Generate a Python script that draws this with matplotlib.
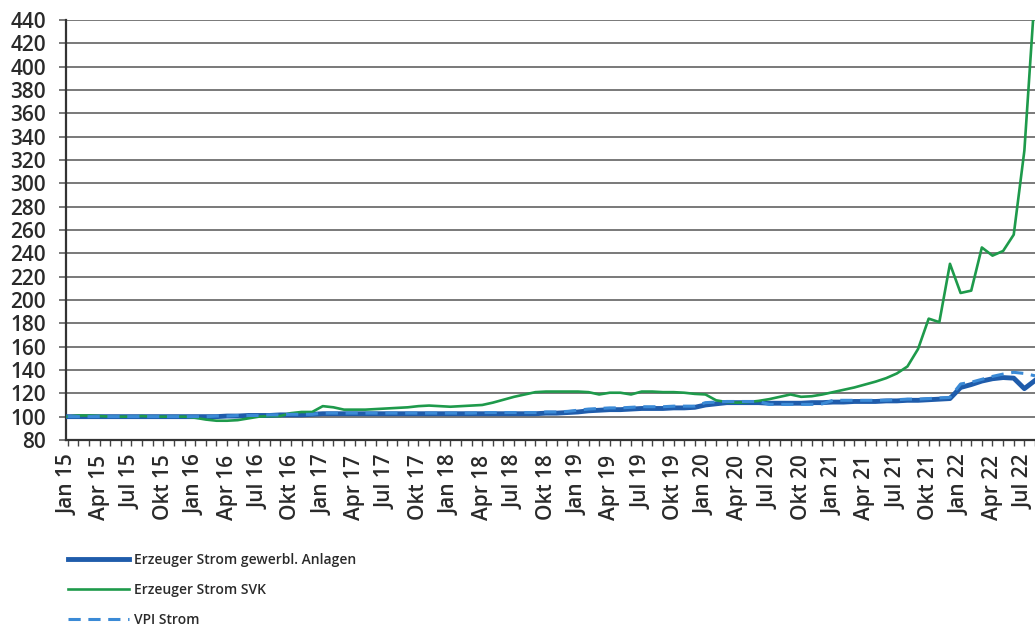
import matplotlib
matplotlib.use("Agg")
import matplotlib.pyplot as plt
import numpy as np

# Monatswerte Jan 15 .. Aug 22 (2015 = 100)
gewerbl = [
    100, 100, 100, 100, 100, 100, 100, 100, 100, 100, 100, 100,
    100, 100, 100, 100.5, 100.5, 101, 101, 101, 101.5, 101.5, 101.5, 102,
    102.5, 102.5, 102.5, 102.5, 102.5, 102.5, 102.5, 102.5, 102.5, 102.5, 102.5, 102.5,
    102.5, 102.5, 102.5, 102.5, 102.5, 102.5, 102.5, 102.5, 102.5, 103, 103, 103.5,
    104, 105, 105.5, 106, 106, 106.5, 107, 107, 107, 107.5, 107.5, 108,
    110, 111, 112, 112, 112, 112, 111.5, 111.5, 111.5, 111.5, 112, 112,
    112.5, 112.5, 113, 113, 113, 113.5, 113.5, 114, 114, 114.5, 115, 115.5,
    125, 127.5, 130.5, 132.5, 133.5, 133, 124, 131,
]
svk = [
    100, 101, 101, 100.5, 100, 100, 100, 100.5, 100, 100, 100, 100,
    99, 97.5, 96.5, 96.5, 97, 98.5, 100, 100.5, 100.5, 103, 104, 104,
    109, 108, 106, 106, 106, 106.5, 107, 107.5, 108, 109, 109.5, 109,
    108.5, 109, 109.5, 110, 112, 114.5, 117, 119, 121, 121.5, 121.5, 121.5,
    121.5, 121, 119, 120.5, 120.5, 119, 121.5, 121.5, 121, 121, 120.5, 119.5,
    119, 114, 112.5, 112, 112.5, 113.5, 115, 117, 119, 117, 117.5, 119,
    121, 123, 125, 127.5, 130, 133, 137, 143, 158, 184, 181, 231,
    206, 208, 245, 238, 242, 256, 328, 465,
]
vpi = [
    100, 100, 100, 100, 100, 100, 100, 100, 100, 100, 100, 100,
    100, 100, 100.5, 100.5, 101, 101, 101, 101.5, 101.5, 102, 102, 102,
    103, 103, 103, 103, 103, 103, 103, 103, 103, 103, 103, 103,
    103, 103, 103, 103.5, 103.5, 103.5, 103.5, 103.5, 103.5, 104, 104, 104.5,
    105.5, 106.5, 107, 107.5, 107.5, 108, 108.5, 108.5, 108.5, 109, 109, 109,
    112, 112.5, 113, 113, 113, 113, 110.5, 110.5, 110.5, 110.5, 110.5, 111,
    114, 114, 114, 114, 114, 114, 114.5, 115, 115, 115.5, 116, 116.5,
    128, 129.5, 132, 134.5, 136.5, 138, 137, 135,
]

tick_labels = [
    "Jan 15", "Apr 15", "Jul 15", "Okt 15",
    "Jan 16", "Apr 16", "Jul 16", "Okt 16",
    "Jan 17", "Apr 17", "Jul 17", "Okt 17",
    "Jan 18", "Apr 18", "Jul 18", "Okt 18",
    "Jan 19", "Apr 19", "Jul 19", "Okt 19",
    "Jan 20", "Apr 20", "Jul 20", "Okt 20",
    "Jan 21", "Apr 21", "Jul 21", "Okt 21",
    "Jan 22", "Apr 22", "Jul 22",
]
series_names = [
    "Erzeuger Strom gewerbl. Anlagen",
    "Erzeuger Strom SVK",
    "VPI Strom",
]

txt = "#2a2a2a"
plt.rcParams["font.family"] = ["Open Sans", "DejaVu Sans"]
plt.rcParams["font.weight"] = "semibold"

fig = plt.figure(figsize=(10.35, 6.28), dpi=100)
ax = fig.add_axes([0.0633, 0.2994, 0.9367, 0.6688])

x = np.arange(len(gewerbl))
ax.plot(x, gewerbl, color="#1f5cab", lw=3.5, label=series_names[0], zorder=3)
ax.plot(x, svk, color="#1e9a4b", lw=1.9, label=series_names[1], zorder=4)
ax.plot(x, vpi, color="#3b8ad6", lw=2.2, dashes=(4, 2.5), label=series_names[2], zorder=5)

ax.set_ylim(80, 440)
ax.set_yticks(range(80, 441, 20))
ax.set_xlim(-0.2, 90.65)
ax.set_xticks(x[::3][:len(tick_labels)])
ax.set_xticklabels(tick_labels, rotation=90)
ax.set_xticks(x, minor=True)

ax.grid(axis="y", color="#555555", lw=1.1, zorder=0)
for s in ["top", "right"]:
    ax.spines[s].set_visible(False)
for s in ["left", "bottom"]:
    ax.spines[s].set_color("#333333")
    ax.spines[s].set_linewidth(1.6)

ax.tick_params(axis="y", length=5, width=1.1, color="#555555", pad=9,
               labelsize=15, labelcolor=txt)
ax.tick_params(axis="x", which="both", length=4.5, width=1.0, color="#444444",
               pad=6, labelsize=15, labelcolor=txt)

fig.legend(loc="upper left", bbox_to_anchor=(0.0657, 0.120), frameon=False,
           borderpad=0, borderaxespad=0, handlelength=4.4, handletextpad=0.35,
           labelspacing=1.15, prop={"size": 10, "weight": "semibold"},
           labelcolor=txt)

fig.savefig("out.png", dpi=100)
